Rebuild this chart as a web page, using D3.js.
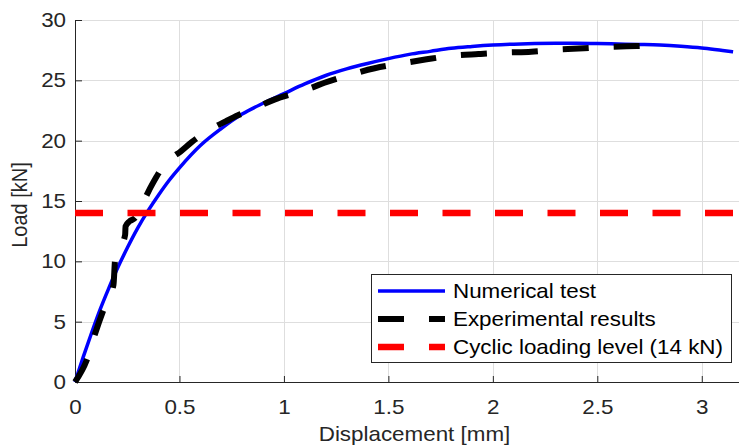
<!DOCTYPE html>
<html>
<head>
<meta charset="utf-8">
<script src="https://cdn.jsdelivr.net/npm/d3@7"></script>
<style>
  html, body { margin: 0; padding: 0; background: #fff; }
  svg { display: block; font-family: "Liberation Sans", Arial, Helvetica, sans-serif; }
</style>
</head>
<body>
<svg id="chart" width="739" height="448"></svg>
<script>
// Numerical load–displacement curve (mm, kN)
const numDisp = [0, 0.04, 0.08, 0.12, 0.16, 0.2, 0.25, 0.3, 0.35, 0.4, 0.45, 0.5, 0.6, 0.7, 0.8, 0.9,
  1.0, 1.1, 1.2, 1.3, 1.4, 1.5, 1.6, 1.7, 1.8, 1.9, 2.0, 2.1, 2.2, 2.3, 2.4, 2.5, 2.6, 2.7, 2.8, 2.9,
  3.0, 3.1, 3.15];
const numLoad = [0, 2.1, 4.1, 6.0, 7.7, 9.3, 11.1, 12.75, 14.2, 15.5, 16.7, 17.75, 19.6, 21.0, 22.2, 23.1,
  23.9, 24.7, 25.4, 25.95, 26.4, 26.8, 27.15, 27.4, 27.65, 27.8, 27.92, 28.0, 28.05, 28.07, 28.07, 28.05,
  28.01, 27.97, 27.92, 27.82, 27.68, 27.47, 27.37];

// Measured load–displacement curve (mm, kN)
const expDisp = [0, 0.056, 0.096, 0.136, 0.184, 0.192, 0.24, 0.242, 0.26, 0.288, 0.31, 0.33, 0.352, 0.39,
  0.425, 0.465, 0.505, 0.56, 0.609, 0.665, 0.721, 0.78, 0.841, 0.9, 0.954, 1.074, 1.134, 1.194, 1.314,
  1.434, 1.5625, 1.683, 1.811, 1.931, 2.06, 2.184, 2.313, 2.436, 2.564, 2.688, 2.816];
const expLoad = [0, 1.8, 4.0, 5.97, 8.04, 10.1, 12.2, 12.9, 13.3, 13.6, 14.2, 15.0, 15.8, 17.0,
  18.0, 18.6, 19.1, 19.9, 20.5, 21.1, 21.6, 22.1, 22.5, 23.0, 23.4, 24.05, 24.4, 24.8, 25.45,
  26.0, 26.4, 26.74, 27.05, 27.18, 27.3, 27.37, 27.55, 27.65, 27.78, 27.84, 27.92];

// Cyclic loading level (kN)
const cyclicLevel = 14;

const xTicks = [0, 0.5, 1, 1.5, 2, 2.5, 3];
const xTickLabels = ["0", "0.5", "1", "1.5", "2", "2.5", "3"];
const yTicks = [0, 5, 10, 15, 20, 25, 30];
const yTickLabels = ["0", "5", "10", "15", "20", "25", "30"];

const seriesNames = ["Numerical test", "Experimental results", "Cyclic loading level (14 kN)"];
const seriesColors = ["#0000ff", "#000000", "#ff0000"];

const xLabel = "Displacement [mm]";
const yLabel = "Load [kN]";

// ---- layout ----
const svg = d3.select("#chart");
const W = 739, H = 448;
const margin = { left: 75, top: 20, bottom: 66 };
const plotRight = 754;           // axes run past the right edge of the figure
const x = d3.scaleLinear().domain([0, 3.25]).range([margin.left, plotRight]);
const y = d3.scaleLinear().domain([0, 30]).range([H - margin.bottom, margin.top]);
const sx = 1.12;                 // horizontal glyph stretch
const axisColor = "#262626";
const dash = "26,25";

svg.append("rect").attr("width", W).attr("height", H).attr("fill", "#fff");

// grid
const grid = svg.append("g").attr("stroke", "#dedede").attr("stroke-width", 1);
grid.selectAll("line.vx").data(xTicks.filter(d => d > 0)).join("line")
  .attr("x1", d => Math.round(x(d)) + 0.5).attr("x2", d => Math.round(x(d)) + 0.5)
  .attr("y1", y(0)).attr("y2", y(30));
grid.selectAll("line.hy").data(yTicks.filter(d => d > 0)).join("line")
  .attr("x1", x(0)).attr("x2", plotRight)
  .attr("y1", d => Math.round(y(d)) + 0.5).attr("y2", d => Math.round(y(d)) + 0.5);

// axes
const xAxis = d3.axisBottom(x).tickValues(xTicks).tickFormat((d, i) => xTickLabels[i])
  .tickSizeInner(-6).tickSizeOuter(0).tickPadding(18);
const yAxis = d3.axisLeft(y).tickValues(yTicks).tickFormat((d, i) => yTickLabels[i])
  .tickSizeInner(-7).tickSizeOuter(0).tickPadding(8);

const gx = svg.append("g").attr("transform", `translate(0,${y(0)})`).call(xAxis);
const gy = svg.append("g").attr("transform", `translate(${x(0)},0)`).call(yAxis);
[gx, gy].forEach(g => {
  g.select(".domain").attr("stroke", axisColor).attr("stroke-width", 1);
  g.selectAll(".tick line").attr("stroke", axisColor).attr("stroke-width", 1);
  g.selectAll(".tick text").attr("fill", axisColor).attr("font-size", 20)
    .attr("font-family", "Liberation Sans, Arial, sans-serif");
});
gx.selectAll(".tick text").attr("transform", `scale(${sx},1)`);
gy.selectAll(".tick text").attr("transform", `scale(${sx},1)`);

// axis labels
svg.append("text")
  .attr("transform", `translate(${(x(0) + plotRight) / 2},441) scale(${sx},1)`)
  .attr("text-anchor", "middle").attr("font-size", 20).attr("fill", axisColor)
  .text(xLabel);
svg.append("text")
  .attr("transform", `translate(27,${(y(0) + y(30)) / 2 + 4}) scale(${sx},1) rotate(-90)`)
  .attr("text-anchor", "middle").attr("font-size", 20).attr("fill", axisColor)
  .text(yLabel);

// curves
const plot = svg.append("g");
const numLine = d3.line().x(d => x(d[0])).y(d => y(d[1])).curve(d3.curveMonotoneX);
const expLine = d3.line().x(d => x(d[0])).y(d => y(d[1])).curve(d3.curveMonotoneX);

plot.append("path")
  .datum(numDisp.map((d, i) => [d, numLoad[i]]))
  .attr("d", numLine).attr("fill", "none")
  .attr("stroke", seriesColors[0]).attr("stroke-width", 3.5);

plot.append("path")
  .datum(expDisp.map((d, i) => [d, expLoad[i]]))
  .attr("d", expLine).attr("fill", "none")
  .attr("stroke", seriesColors[1]).attr("stroke-width", 6)
  .attr("stroke-dasharray", dash);

plot.append("line")
  .attr("x1", x(0)).attr("x2", W)
  .attr("y1", y(cyclicLevel)).attr("y2", y(cyclicLevel))
  .attr("stroke", seriesColors[2]).attr("stroke-width", 6.5)
  .attr("stroke-dasharray", "28,24.5");

// legend
const legend = svg.append("g");
legend.append("rect")
  .attr("x", 371.5).attr("y", 274.5).attr("width", 360).attr("height", 88)
  .attr("fill", "#fff").attr("stroke", axisColor).attr("stroke-width", 1);
const rowY = [291, 319, 347];
const sampleDash = [null, dash, dash];
const sampleWidth = [3.5, 6, 6.5];
seriesNames.forEach((name, i) => {
  const ln = legend.append("line")
    .attr("x1", 378).attr("x2", 445).attr("y1", rowY[i]).attr("y2", rowY[i])
    .attr("stroke", seriesColors[i]).attr("stroke-width", sampleWidth[i]);
  if (sampleDash[i]) ln.attr("stroke-dasharray", sampleDash[i]);
  legend.append("text")
    .attr("transform", `translate(453,${rowY[i] + 7}) scale(${sx},1)`)
    .attr("font-size", 20).attr("fill", "#000")
    .text(name);
});
</script>
</body>
</html>
